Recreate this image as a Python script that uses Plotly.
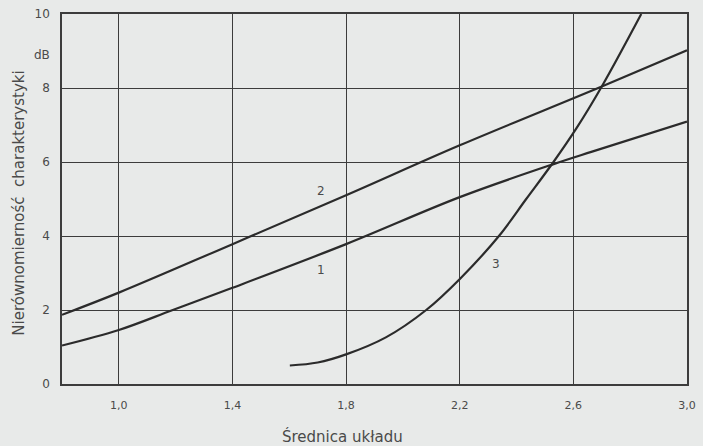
import plotly.graph_objects as go

# Curve 1
x1 = [0.8, 1.0, 1.19, 1.4, 1.8, 2.2, 2.533, 2.666, 3.0]
y1 = [1.04, 1.46, 2.0, 2.60, 3.78, 5.05, 5.95, 6.28, 7.09]

# Curve 2
x2 = [0.8, 1.0, 1.4, 1.8, 2.2, 2.70, 3.0]
y2 = [1.87, 2.47, 3.78, 5.10, 6.45, 8.04, 9.02]

# Curve 3
x3 = [1.602, 1.70, 1.8, 1.94, 2.082, 2.203, 2.338, 2.434, 2.53, 2.61, 2.70, 2.839]
y3 = [0.50, 0.58, 0.80, 1.26, 2.0, 2.86, 4.0, 5.0, 6.0, 6.9, 8.04, 10.0]

x_ticks = [1.0, 1.4, 1.8, 2.2, 2.6, 3.0]
x_tick_text = ["1,0", "1,4", "1,8", "2,2", "2,6", "3,0"]
y_ticks = [0, 2, 4, 6, 8, 10]
y_tick_text = ["0", "2", "4", "6", "8", "10"]

curve_labels = ["1", "2", "3"]
label_x = [1.712, 1.712, 2.326]
label_y = [3.07, 5.21, 3.24]

INK = "#2b2b2b"
GRID = "#3c3c3c"
PAPER = "#e8eae9"
TEXT = "#4a4a4a"
FONT = "DejaVu Sans"

fig = go.Figure()
for xs, ys in [(x1, y1), (x2, y2), (x3, y3)]:
    fig.add_trace(go.Scatter(
        x=xs, y=ys, mode="lines",
        line=dict(color=INK, width=2.2, shape="spline", smoothing=1.0),
        showlegend=False, hoverinfo="skip",
    ))

for t, lx, ly in zip(curve_labels, label_x, label_y):
    fig.add_annotation(x=lx, y=ly, text=t, showarrow=False,
                       font=dict(family=FONT, size=12, color=TEXT))

# unit labels next to the axes
fig.add_annotation(x=2.849, y=-0.6, text="λ", showarrow=False,
                   xanchor="center", yanchor="middle",
                   font=dict(family=FONT, size=15, color=TEXT))
fig.add_annotation(xref="paper", x=-0.0315, y=8.9, text="dB", showarrow=False,
                   xanchor="center", yanchor="middle",
                   font=dict(family=FONT, size=12, color=TEXT))

# axis titles
fig.add_annotation(xref="paper", yref="paper", x=0.4495, y=-0.1417,
                   text="Średnica układu", showarrow=False,
                   xanchor="center", yanchor="middle",
                   font=dict(family=FONT, size=15, color=TEXT))
fig.add_annotation(xref="paper", yref="paper", x=-0.0694, y=0.489,
                   text="Nierównomierność  charakterystyki", showarrow=False,
                   textangle=-90, xanchor="center", yanchor="middle",
                   font=dict(family=FONT, size=15, color=TEXT))

fig.update_xaxes(
    range=[0.8, 3.0], tickvals=x_ticks, ticktext=x_tick_text,
    showgrid=True, gridcolor=GRID, gridwidth=1.2,
    showline=True, linecolor=GRID, linewidth=1.6, mirror=True,
    zeroline=False, ticks="", ticklabelstandoff=10,
    tickfont=dict(family=FONT, size=11, color=TEXT),
)
fig.update_yaxes(
    range=[0, 10], tickvals=y_ticks, ticktext=y_tick_text,
    showgrid=True, gridcolor=GRID, gridwidth=1.2,
    showline=True, linecolor=GRID, linewidth=1.6, mirror=True,
    zeroline=False, ticks="", ticklabelstandoff=8,
    tickfont=dict(family=FONT, size=12, color=TEXT),
)

fig.update_layout(
    width=703, height=446,
    margin=dict(l=62, r=7, t=10, b=62),
    paper_bgcolor=PAPER, plot_bgcolor=PAPER,
)

fig.write_html("out.html")
